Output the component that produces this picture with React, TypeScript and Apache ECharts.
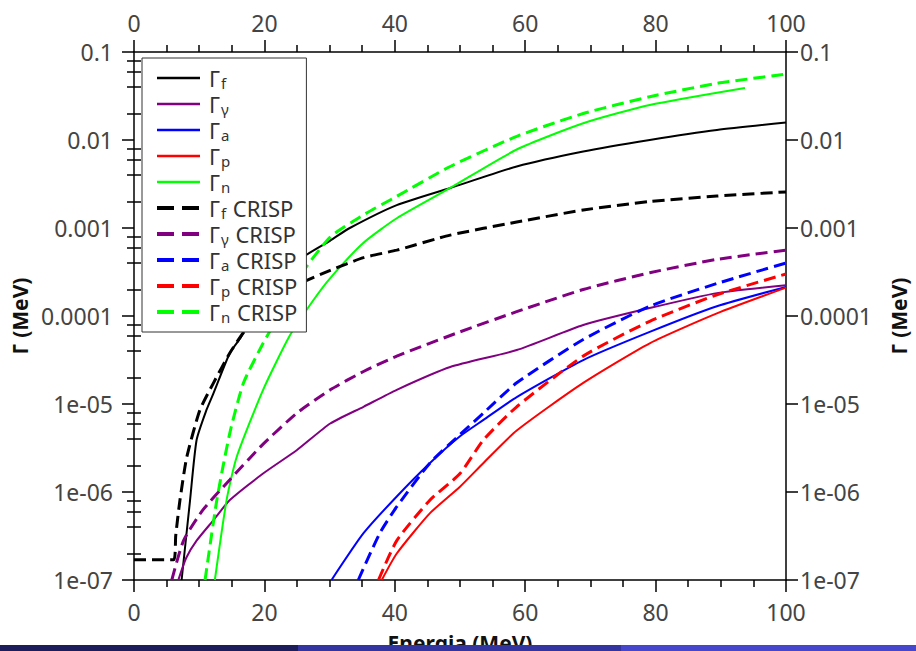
import React, { useEffect, useRef } from "react";
import * as echarts from "echarts";

// ---- data ----
const ffX = [7.3, 8.6, 9.6, 11.1, 12.2, 14.7, 16.3, 17.8, 19.8, 23.4, 26, 30.1, 33.1, 40.3, 48.5, 58.7, 68.9, 79.1, 89.4, 100];
const ffY = [1e-7, 8.1e-7, 3.9e-6, 8.5e-6, 1.33e-5, 3.8e-5, 5.6e-5, 8.9e-5, 1.41e-4, 2.8e-4, 4.7e-4, 7.2e-4, 1.0e-3, 1.82e-3, 2.85e-3, 5.0e-3, 7.4e-3, 1.0e-2, 1.3e-2, 1.58e-2];

const fgX = [6.8, 8.0, 9.6, 12.2, 14.7, 19.8, 25, 30.1, 35.2, 40.3, 48.5, 58.7, 68.9, 79.1, 89.4, 100];
const fgY = [1e-7, 1.78e-7, 2.8e-7, 4.8e-7, 8.1e-7, 1.62e-6, 3.0e-6, 6.0e-6, 9.3e-6, 1.45e-5, 2.63e-5, 4.1e-5, 7.9e-5, 1.23e-4, 1.82e-4, 2.24e-4];

const faX = [30.3, 35.2, 40.3, 45.4, 50, 53.6, 58.7, 68.9, 79.1, 89.4, 100];
const faY = [1e-7, 3.4e-7, 8.9e-7, 2.14e-6, 4.3e-6, 6.6e-6, 1.2e-5, 3.16e-5, 6.6e-5, 1.29e-4, 2.14e-4];

const fpX = [38.0, 40.3, 45.4, 50, 53.6, 58.7, 68.9, 79.1, 89.4, 100];
const fpY = [1e-7, 2.0e-7, 5.75e-7, 1.15e-6, 2.14e-6, 5.0e-6, 1.74e-5, 4.9e-5, 1.07e-4, 2.1e-4];

const fnX = [12.4, 14.2, 15.75, 19.8, 23.9, 27.5, 30.1, 35.2, 40.3, 48.5, 58.7, 68.9, 79.1, 93.7];
const fnY = [1e-7, 8.1e-7, 2.5e-6, 1.45e-5, 6.0e-5, 1.51e-4, 2.7e-4, 6.8e-4, 1.29e-3, 2.85e-3, 7.8e-3, 1.55e-2, 2.5e-2, 3.9e-2];

const cfX = [0, 6.1, 6.4, 7.05, 8.1, 10.1, 12.2, 14.7, 16.8, 18.3, 20.9, 25, 30.1, 35.2, 40.3, 48.5, 58.7, 68.9, 79.1, 89.4, 100];
const cfY = [1.7e-7, 1.7e-7, 3.2e-7, 8.1e-7, 2.5e-6, 8.5e-6, 1.74e-5, 3.8e-5, 6.5e-5, 8.3e-5, 1.29e-4, 2.24e-4, 3.3e-4, 4.6e-4, 5.6e-4, 8.3e-4, 1.17e-3, 1.6e-3, 2.0e-3, 2.31e-3, 2.57e-3];

const cgX = [5.8, 7.6, 10.6, 14.7, 19.8, 25, 30.1, 35.2, 40.3, 50, 58.7, 68.9, 79.1, 89.4, 100];
const cgY = [1e-7, 2.8e-7, 6.3e-7, 1.38e-6, 3.5e-6, 7.9e-6, 1.45e-5, 2.34e-5, 3.5e-5, 6.6e-5, 1.12e-4, 2.0e-4, 3.1e-4, 4.4e-4, 5.6e-4];

const caX = [34.4, 37.7, 40.3, 45.4, 50, 53.6, 58.7, 68.9, 79.1, 89.4, 100];
const caY = [1e-7, 3.4e-7, 6.8e-7, 2.14e-6, 4.5e-6, 7.9e-6, 1.74e-5, 5.4e-5, 1.29e-4, 2.34e-4, 4.0e-4];

const cpX = [37.5, 40.3, 45.4, 50, 53.6, 58.7, 68.9, 79.1, 89.4, 100];
const cpY = [1e-7, 2.8e-7, 8.1e-7, 1.62e-6, 3.9e-6, 9.3e-6, 3.5e-5, 8.7e-5, 1.74e-4, 3.0e-4];

const cnX = [10.9, 12.7, 14.7, 16.8, 19.8, 22.4, 25, 30.1, 35.2, 40.3, 48.5, 58.7, 68.9, 79.1, 89.4, 100];
const cnY = [1e-7, 8.1e-7, 4.7e-6, 1.74e-5, 4.9e-5, 1.07e-4, 2.57e-4, 7.9e-4, 1.41e-3, 2.29e-3, 5.0e-3, 1.1e-2, 2.0e-2, 3.1e-2, 4.4e-2, 5.6e-2];

const yTickValues = [1e-7, 1e-6, 1e-5, 1e-4, 1e-3, 1e-2, 1e-1];
const yTickLabels = ["1e-07", "1e-06", "1e-05", "0.0001", "0.001", "0.01", "0.1"];
const yMinorTicks = [
  2e-7, 4e-7, 6e-7, 8e-7,
  2e-6, 4e-6, 6e-6, 8e-6,
  2e-5, 4e-5, 6e-5, 8e-5,
  2e-4, 4e-4, 6e-4, 8e-4,
  2e-3, 4e-3, 6e-3, 8e-3,
  2e-2, 4e-2, 6e-2, 8e-2,
];

const seriesDefs = [
  { name: "Γf", x: ffX, y: ffY, color: "#000000", dashed: false },
  { name: "Γγ", x: fgX, y: fgY, color: "#800080", dashed: false },
  { name: "Γa", x: faX, y: faY, color: "#0000ff", dashed: false },
  { name: "Γp", x: fpX, y: fpY, color: "#ff0000", dashed: false },
  { name: "Γn", x: fnX, y: fnY, color: "#00ff00", dashed: false },
  { name: "Γf CRISP", x: cfX, y: cfY, color: "#000000", dashed: true },
  { name: "Γγ CRISP", x: cgX, y: cgY, color: "#800080", dashed: true },
  { name: "Γa CRISP", x: caX, y: caY, color: "#0000ff", dashed: true },
  { name: "Γp CRISP", x: cpX, y: cpY, color: "#ff0000", dashed: true },
  { name: "Γn CRISP", x: cnX, y: cnY, color: "#00ff00", dashed: true },
];

const FONT = "Noto Sans";
const LABEL_COLOR = "#444";

function yLabel(v: number): string {
  for (let i = 0; i < yTickValues.length; i++) {
    if (Math.abs(Math.log10(v) - Math.log10(yTickValues[i])) < 0.01) return yTickLabels[i];
  }
  return "";
}

export default function App() {
  const ref = useRef<HTMLDivElement>(null);
  useEffect(() => {
    if (!ref.current) return;
    const chart = echarts.init(ref.current, undefined, { renderer: "svg" });

    const xAxisBase = {
      type: "value",
      min: 0,
      max: 100,
      interval: 20,
      axisLine: { show: true, onZero: false, lineStyle: { color: "#000", width: 1.5 } },
      axisTick: { show: true, length: 12, lineStyle: { color: "#000", width: 1.5 } },
      minorTick: { show: true, splitNumber: 4, length: 7, lineStyle: { color: "#000", width: 1.5 } },
      splitLine: { show: false },
      minorSplitLine: { show: false },
      axisLabel: { fontFamily: FONT, fontSize: 23, color: LABEL_COLOR, margin: 20 },
    };

    const yAxisBase = {
      type: "log",
      logBase: 10,
      min: 1e-7,
      max: 0.1,
      axisLine: { show: true, onZero: false, lineStyle: { color: "#000", width: 1.5 } },
      axisTick: { show: true, length: 12, lineStyle: { color: "#000", width: 1.5 } },
      splitLine: { show: false },
      minorSplitLine: { show: false },
      axisLabel: { fontFamily: FONT, fontSize: 23, color: LABEL_COLOR, formatter: yLabel },
      nameLocation: "middle",
      nameRotate: 90,
      nameTextStyle: { fontFamily: FONT, fontSize: 21, fontWeight: "bold", color: "#111" },
    };

    const minorY = (pos: string) => ({
      type: "log",
      logBase: 10,
      min: 1e-7,
      max: 0.1,
      position: pos,
      axisLine: { show: false },
      axisLabel: { show: false },
      splitLine: { show: false },
      axisTick: { show: true, length: 7, customValues: yMinorTicks, lineStyle: { color: "#000", width: 1.5 } },
    });

    const legendData = seriesDefs.map((s) =>
      s.dashed
        ? { name: s.name, lineStyle: { type: [17, 8], width: 4 } }
        : { name: s.name, lineStyle: { width: 2.5 } }
    );

    chart.setOption({
      animation: false,
      backgroundColor: "#ffffff",
      grid: { left: 134, right: 130, top: 52, bottom: 71, containLabel: false, outerBoundsMode: "none" },
      xAxis: [
        {
          ...xAxisBase,
          position: "bottom",
          name: "Energia (MeV)",
          nameLocation: "middle",
          nameGap: 52,
          nameTextStyle: { fontFamily: FONT, fontSize: 21, fontWeight: "bold", color: "#111" },
        },
        { ...xAxisBase, position: "top", axisLabel: { ...xAxisBase.axisLabel, margin: 18 } },
      ],
      yAxis: [
        { ...yAxisBase, position: "left", name: "Γ (MeV)", nameGap: 91, axisLabel: { ...yAxisBase.axisLabel, margin: 21 } },
        { ...yAxisBase, position: "right", name: "Γ (MeV)", nameGap: 102, axisLabel: { ...yAxisBase.axisLabel, margin: 14 } },
        minorY("left"),
        minorY("right"),
      ],
      legend: {
        orient: "vertical",
        left: 142,
        top: 58,
        padding: [9, 9, 8, 13],
        itemWidth: 43,
        itemHeight: 24,
        itemGap: 3,
        backgroundColor: "#ffffff",
        borderColor: "#333",
        borderWidth: 1,
        borderRadius: 0,
        itemStyle: { opacity: 0, borderWidth: 0, color: "rgba(0,0,0,0)" },
        data: legendData,
        formatter: (name: string) => {
          const sub = name.charAt(1);
          const rest = name.slice(2);
          return "{g|Γ}{s|" + sub + "}" + (rest ? "{m|" + rest + "}" : "");
        },
        textStyle: {
          fontFamily: FONT,
          color: "#333",
          rich: {
            g: { fontFamily: FONT, fontSize: 22, color: "#333", lineHeight: 24, padding: [0, 0, 0, 4] },
            m: { fontFamily: FONT, fontSize: 22, color: "#333", lineHeight: 24 },
            s: { fontFamily: FONT, fontSize: 15, color: "#333", lineHeight: 12, verticalAlign: "bottom", padding: [0, 1, 0, 1] },
          },
        },
      },
      graphic: [
        { type: "rect", left: 0, top: 645, z: 100, shape: { width: 298, height: 6 }, style: { fill: "#1d1d5c" } },
        { type: "rect", left: 298, top: 645, z: 100, shape: { width: 323, height: 6 }, style: { fill: "#3434a0" } },
        { type: "rect", left: 621, top: 645, z: 100, shape: { width: 295, height: 6 }, style: { fill: "#4646cc" } },
      ],
      series: seriesDefs.map((s) => ({
        name: s.name,
        type: "line",
        xAxisIndex: 0,
        yAxisIndex: 0,
        symbol: "none",
        showSymbol: false,
        smooth: 0.2,
        clip: true,
        data: s.x.map((xv, i) => [xv, s.y[i]]),
        lineStyle: s.dashed
          ? { color: s.color, width: 3, type: [12, 6] }
          : { color: s.color, width: 2 },
        itemStyle: { color: s.color },
      })),
    });

    return () => chart.dispose();
  }, []);

  return (
    <div
      ref={ref}
      style={{ position: "fixed", left: 0, top: 0, width: 916, height: 651 }}
    />
  );
}
